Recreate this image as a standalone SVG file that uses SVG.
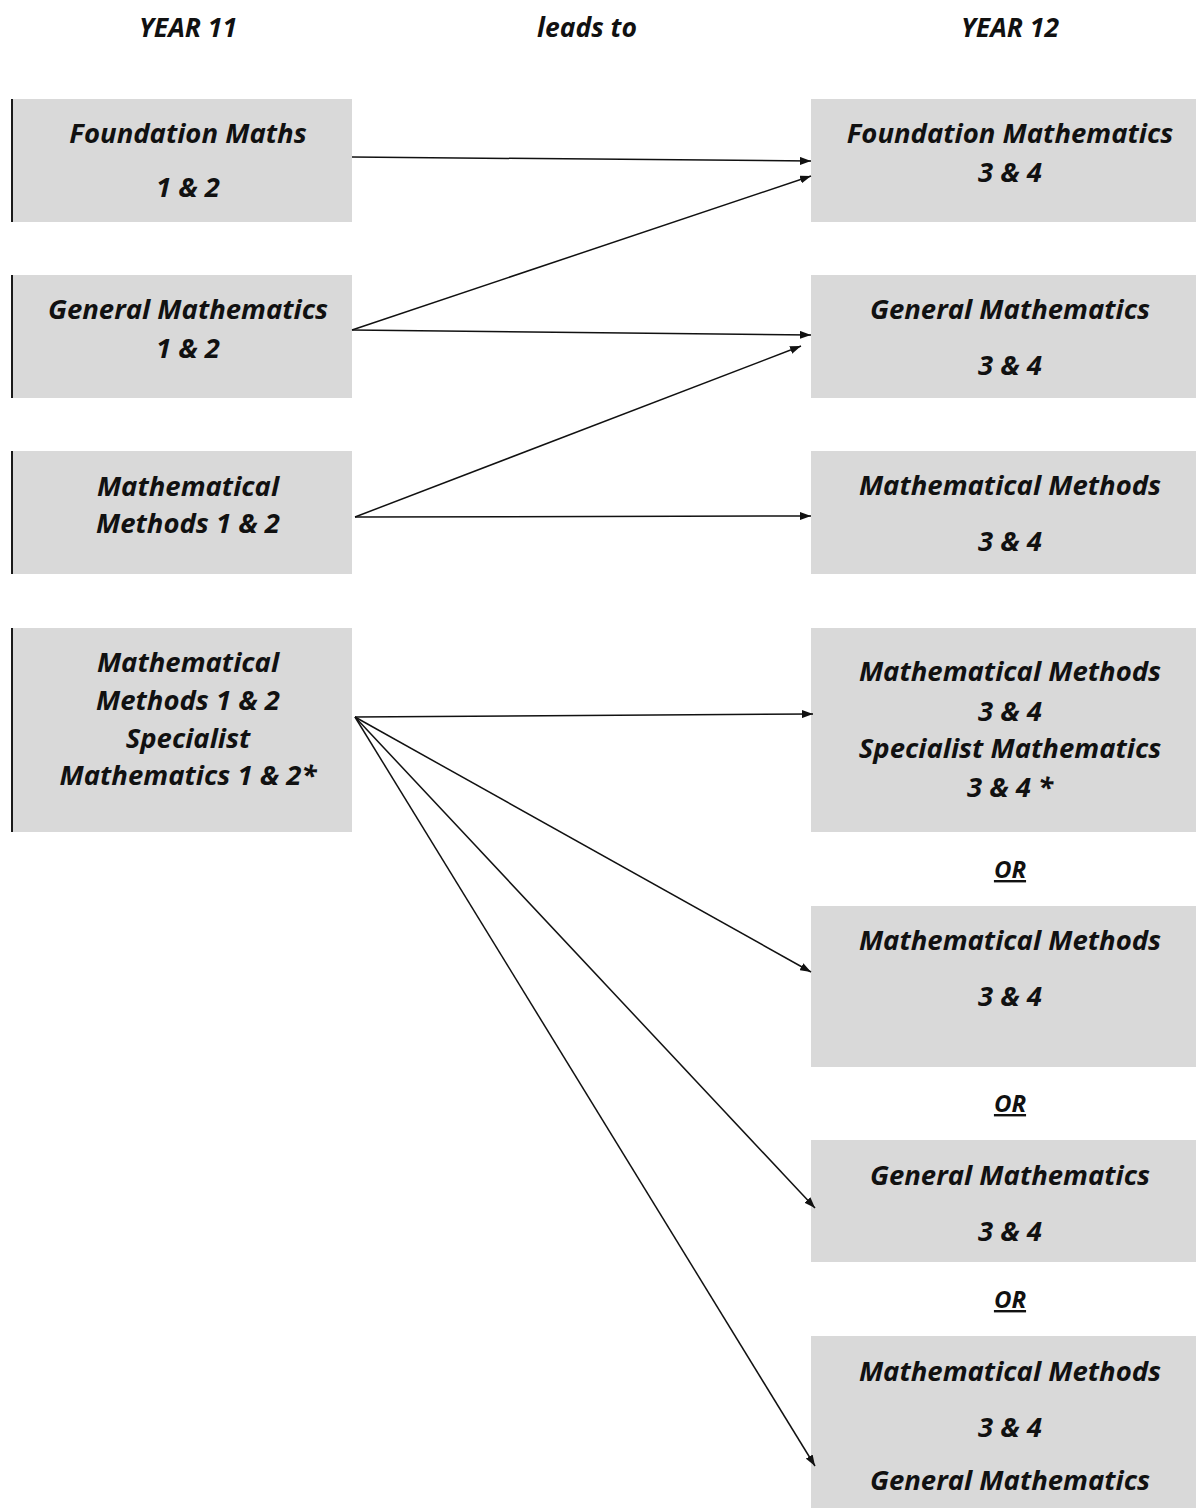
<svg xmlns="http://www.w3.org/2000/svg" width="1196" height="1508" viewBox="0 0 1196 1508">
<defs>
<style>
.box{fill:#d9d9d9}
.edge{stroke:#1a1a1a;stroke-width:2}
.t{font-family:"Open Sans",Lato,sans-serif;font-weight:bold;font-style:italic;font-size:27.5px;fill:#111;text-anchor:middle}
.h{font-family:"Open Sans",Lato,sans-serif;font-weight:bold;font-style:italic;font-size:26.5px;fill:#111;text-anchor:middle}
.or{font-family:"Open Sans",Lato,sans-serif;font-weight:bold;font-style:italic;font-size:24px;fill:#111;text-anchor:middle;text-decoration:underline}
.c{stroke:#111;stroke-width:1.5;fill:none;marker-end:url(#ah)}
</style>
<marker id="ah" viewBox="0 0 11 8" refX="11" refY="4" markerWidth="11" markerHeight="8" markerUnits="userSpaceOnUse" orient="auto">
<path d="M0,0 L11,4 L0,8 z" fill="#111"/>
</marker>
</defs>
<rect width="1196" height="1508" fill="#fff"/>
<g id="headers">
<text class="h" x="188" y="37">YEAR 11</text>
<text class="h" x="587" y="37">leads to</text>
<text class="h" x="1010" y="37">YEAR 12</text>
</g>
<g id="l1"><rect class="box" x="12" y="99" width="340" height="123"/><line class="edge" x1="12" y1="99" x2="12" y2="222"/>
<text class="t" x="188" y="143">Foundation Maths</text><text class="t" x="188" y="197">1 &amp; 2</text></g>
<g id="l2"><rect class="box" x="12" y="275" width="340" height="123"/><line class="edge" x1="12" y1="275" x2="12" y2="398"/>
<text class="t" x="188" y="319">General Mathematics</text><text class="t" x="188" y="358">1 &amp; 2</text></g>
<g id="l3"><rect class="box" x="12" y="451" width="340" height="123"/><line class="edge" x1="12" y1="451" x2="12" y2="574"/>
<text class="t" x="188" y="496">Mathematical</text><text class="t" x="188" y="533">Methods 1 &amp; 2</text></g>
<g id="l4"><rect class="box" x="12" y="628" width="340" height="204"/><line class="edge" x1="12" y1="628" x2="12" y2="832"/>
<text class="t" x="188" y="672">Mathematical</text><text class="t" x="188" y="710">Methods 1 &amp; 2</text><text class="t" x="188" y="748">Specialist</text><text class="t" x="188" y="785">Mathematics 1 &amp; 2*</text></g>
<g id="r1"><rect class="box" x="811" y="99" width="385" height="123"/>
<text class="t" x="1010" y="143">Foundation Mathematics</text><text class="t" x="1010" y="182">3 &amp; 4</text></g>
<g id="r2"><rect class="box" x="811" y="275" width="385" height="123"/>
<text class="t" x="1010" y="319">General Mathematics</text><text class="t" x="1010" y="375">3 &amp; 4</text></g>
<g id="r3"><rect class="box" x="811" y="451" width="385" height="123"/>
<text class="t" x="1010" y="495">Mathematical Methods</text><text class="t" x="1010" y="551">3 &amp; 4</text></g>
<g id="r4"><rect class="box" x="811" y="628" width="385" height="204"/>
<text class="t" x="1010" y="681">Mathematical Methods</text><text class="t" x="1010" y="721">3 &amp; 4</text><text class="t" x="1010" y="758">Specialist Mathematics</text><text class="t" x="1010" y="797">3 &amp; 4 *</text></g>
<text class="or" x="1010" y="878">OR</text>
<g id="r5"><rect class="box" x="811" y="906" width="385" height="161"/>
<text class="t" x="1010" y="950">Mathematical Methods</text><text class="t" x="1010" y="1006">3 &amp; 4</text></g>
<text class="or" x="1010" y="1112">OR</text>
<g id="r6"><rect class="box" x="811" y="1140" width="385" height="122"/>
<text class="t" x="1010" y="1185">General Mathematics</text><text class="t" x="1010" y="1241">3 &amp; 4</text></g>
<text class="or" x="1010" y="1308">OR</text>
<g id="r7"><rect class="box" x="811" y="1336" width="385" height="172"/>
<text class="t" x="1010" y="1381">Mathematical Methods</text><text class="t" x="1010" y="1437">3 &amp; 4</text><text class="t" x="1010" y="1490">General Mathematics</text></g>
<g id="connectors">
<line class="c" x1="352" y1="157" x2="811" y2="161"/>
<line class="c" x1="352" y1="330" x2="811" y2="176"/>
<line class="c" x1="352" y1="330" x2="811" y2="335"/>
<line class="c" x1="355" y1="517" x2="801" y2="346"/>
<line class="c" x1="355" y1="517" x2="811" y2="516"/>
<line class="c" x1="355" y1="717" x2="813" y2="714"/>
<line class="c" x1="355" y1="717" x2="811" y2="972"/>
<line class="c" x1="355" y1="717" x2="815" y2="1208"/>
<line class="c" x1="355" y1="717" x2="815" y2="1466"/>
</g>
</svg>
